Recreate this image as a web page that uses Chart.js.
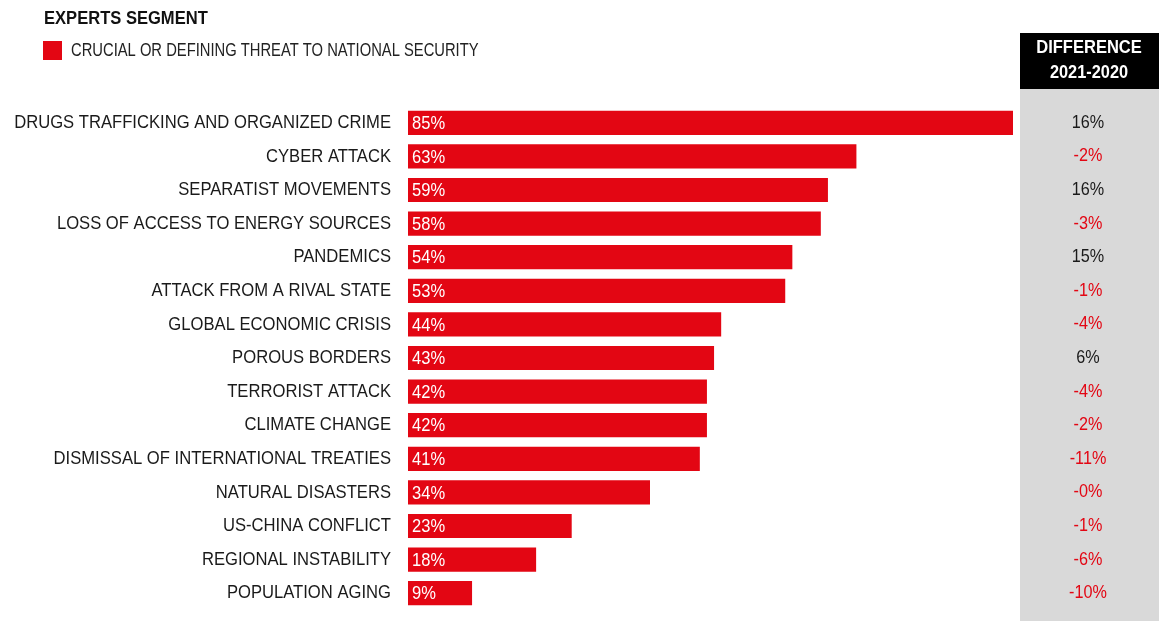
<!DOCTYPE html>
<html>
<head>
<meta charset="utf-8">
<script src="https://cdn.jsdelivr.net/npm/chart.js@4"></script>
<style>
  html, body { margin: 0; padding: 0; background: #fff; }
  #wrap { width: 1159px; height: 621px; position: relative; }
</style>
</head>
<body>
<div id="wrap"><canvas id="threatChart"></canvas></div>
<script>
const categories = [
  'DRUGS TRAFFICKING AND ORGANIZED CRIME',
  'CYBER ATTACK',
  'SEPARATIST MOVEMENTS',
  'LOSS OF ACCESS TO ENERGY SOURCES',
  'PANDEMICS',
  'ATTACK FROM A RIVAL STATE',
  'GLOBAL ECONOMIC CRISIS',
  'POROUS BORDERS',
  'TERRORIST ATTACK',
  'CLIMATE CHANGE',
  'DISMISSAL OF INTERNATIONAL TREATIES',
  'NATURAL DISASTERS',
  'US-CHINA CONFLICT',
  'REGIONAL INSTABILITY',
  'POPULATION AGING'
];
const shares = [85, 63, 59, 58, 54, 53, 44, 43, 42, 42, 41, 34, 23, 18, 9];
const diffLabels = ['16%', '-2%', '16%', '-3%', '15%', '-1%', '-4%', '6%', '-4%', '-2%', '-11%', '-0%', '-1%', '-6%', '-10%'];

const RED = '#e30613';
const FONT = '"Liberation Sans", Arial, sans-serif';

// no narrow face available, so squeeze the text horizontally
function narrowText(ctx, text, x, y, sx) {
  ctx.save();
  ctx.translate(x, y);
  ctx.scale(sx, 1);
  ctx.fillText(text, 0, 0);
  ctx.restore();
}

const decorPlugin = {
  id: 'decor',
  beforeDraw(chart) {
    const ctx = chart.ctx;
    ctx.save();
    // difference column
    ctx.fillStyle = '#d9d9d9';
    ctx.fillRect(1020, 89, 139, 532);
    ctx.fillStyle = '#000';
    ctx.fillRect(1020, 33, 139, 56);
    ctx.restore();
  },
  afterDraw(chart) {
    const ctx = chart.ctx;
    const xs = chart.scales.x;
    const ys = chart.scales.y;
    ctx.save();
    ctx.textBaseline = 'middle';

    // title + legend
    ctx.fillStyle = '#111';
    ctx.font = 'bold 18px ' + FONT;
    ctx.textAlign = 'left';
    narrowText(ctx, 'EXPERTS SEGMENT', 44, 19, 0.92);
    ctx.fillStyle = RED;
    ctx.fillRect(43, 41, 19, 19);
    ctx.fillStyle = '#222';
    ctx.font = '18px ' + FONT;
    narrowText(ctx, 'CRUCIAL OR DEFINING THREAT TO NATIONAL SECURITY', 71, 51, 0.82);

    // header
    ctx.fillStyle = '#fff';
    ctx.font = 'bold 19px ' + FONT;
    ctx.textAlign = 'center';
    narrowText(ctx, 'DIFFERENCE', 1089, 48, 0.87);
    narrowText(ctx, '2021-2020', 1089, 73, 0.86);

    // category labels
    ctx.font = '19px ' + FONT;
    ctx.textAlign = 'right';
    ctx.fillStyle = '#1a1a1a';
    categories.forEach((c, i) => {
      narrowText(ctx, c, 391, ys.getPixelForValue(i), 0.875);
    });

    // values in bars
    ctx.textAlign = 'left';
    ctx.fillStyle = '#fff';
    shares.forEach((v, i) => {
      narrowText(ctx, v + '%', xs.getPixelForValue(0) + 4, ys.getPixelForValue(i) + 1, 0.87);
    });

    // difference values
    ctx.font = '18px ' + FONT;
    ctx.textAlign = 'center';
    diffLabels.forEach((d, i) => {
      ctx.fillStyle = d.startsWith('-') ? RED : '#1a1a1a';
      narrowText(ctx, d, 1088, ys.getPixelForValue(i), 0.9);
    });
    ctx.restore();
  }
};

new Chart(document.getElementById('threatChart'), {
  type: 'bar',
  data: {
    labels: categories,
    datasets: [{
      data: shares,
      backgroundColor: RED,
      categoryPercentage: 1,
      barPercentage: 0.72
    }]
  },
  options: {
    indexAxis: 'y',
    responsive: true,
    maintainAspectRatio: false,
    animation: false,
    layout: { padding: { top: 106, bottom: 11, right: 146, left: 0 } },
    plugins: { legend: { display: false }, tooltip: { enabled: false } },
    scales: {
      x: { display: false, min: 0, max: 85 },
      y: {
        grid: { display: false, drawTicks: false },
        border: { display: false },
        afterFit(scale) { scale.width = 408; },
        ticks: { display: false }
      }
    }
  },
  plugins: [decorPlugin]
});
</script>
</body>
</html>
